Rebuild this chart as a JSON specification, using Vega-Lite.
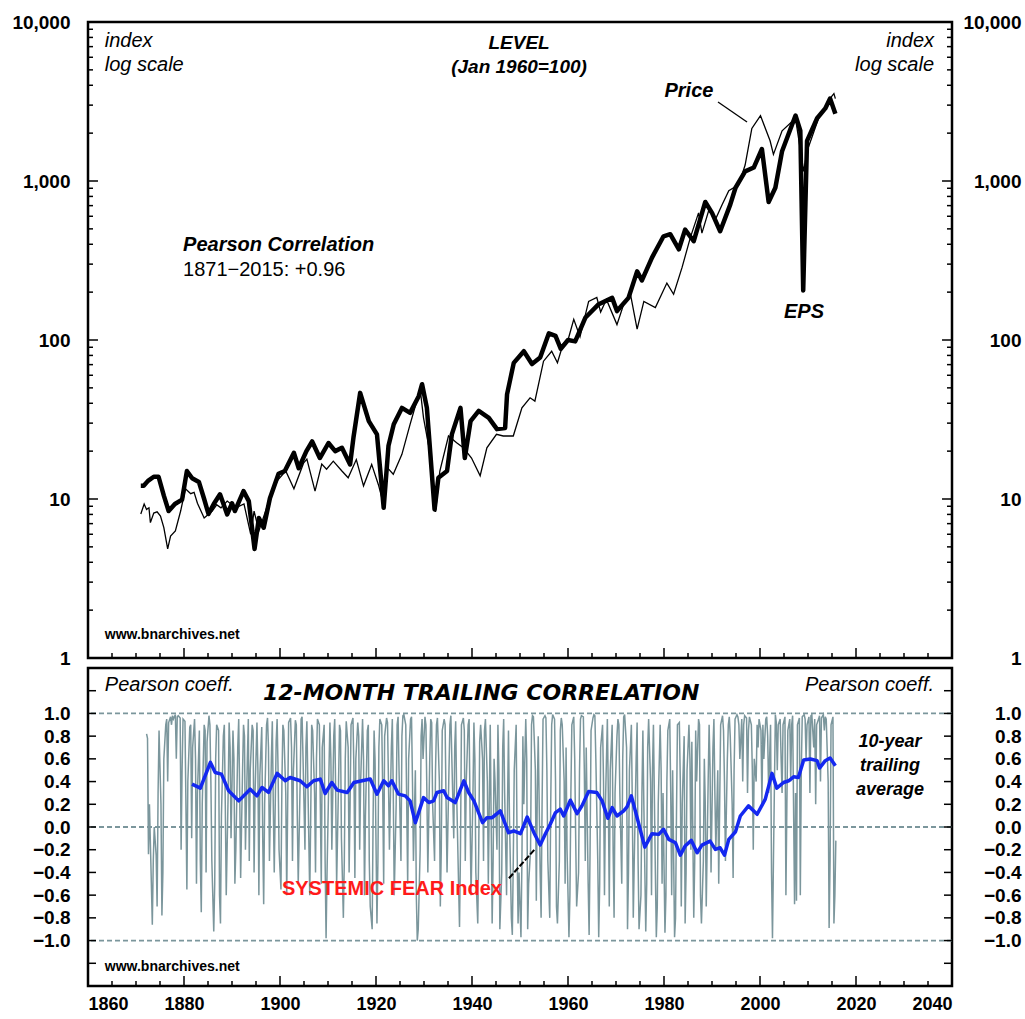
{
"$schema":"https://vega.github.io/schema/vega-lite/v6.json",
"background":"white",
"padding":{"left":10,"top":11,"right":0,"bottom":0},
"bounds":"flush",
"spacing":10,
"config":{"view":{"stroke":"black","strokeWidth":2.5},"axis":{"labelFont":"Liberation Sans","labelFontWeight":"bold","labelColor":"black","domain":false,"grid":false,"ticks":false}},
"datasets":{
"eps":[{"t":1871.0,"v":12.1},{"t":1871.6,"v":12.1},{"t":1872.5,"v":13.0},{"t":1873.7,"v":13.8},{"t":1874.7,"v":13.8},{"t":1875.8,"v":10.5},{"t":1876.8,"v":8.4},{"t":1878.1,"v":9.3},{"t":1879.6,"v":9.9},{"t":1880.6,"v":15.0},{"t":1881.7,"v":13.5},{"t":1883.1,"v":12.8},{"t":1884.2,"v":10.0},{"t":1885.1,"v":8.05},{"t":1886.2,"v":9.3},{"t":1887.5,"v":10.7},{"t":1889.0,"v":8.0},{"t":1890.0,"v":9.4},{"t":1890.6,"v":8.4},{"t":1892.4,"v":11.2},{"t":1893.5,"v":9.7},{"t":1894.7,"v":4.85},{"t":1895.6,"v":7.6},{"t":1896.6,"v":6.6},{"t":1897.9,"v":10.1},{"t":1899.7,"v":14.4},{"t":1901.0,"v":15.0},{"t":1902.9,"v":19.5},{"t":1903.9,"v":15.6},{"t":1905.5,"v":20.0},{"t":1906.7,"v":23.0},{"t":1908.3,"v":18.1},{"t":1910.1,"v":22.5},{"t":1911.5,"v":20.0},{"t":1912.9,"v":21.0},{"t":1914.6,"v":16.5},{"t":1915.3,"v":24.3},{"t":1916.7,"v":46.5},{"t":1918.5,"v":30.9},{"t":1920.2,"v":25.5},{"t":1921.6,"v":8.8},{"t":1922.6,"v":21.6},{"t":1923.7,"v":29.5},{"t":1925.4,"v":37.4},{"t":1927.1,"v":34.8},{"t":1928.9,"v":44.3},{"t":1929.6,"v":52.7},{"t":1930.6,"v":37.4},{"t":1932.2,"v":8.6},{"t":1933.0,"v":13.6},{"t":1934.8,"v":15.0},{"t":1935.8,"v":25.5},{"t":1937.6,"v":37.4},{"t":1938.5,"v":18.1},{"t":1939.7,"v":30.9},{"t":1941.4,"v":35.8},{"t":1943.5,"v":32.4},{"t":1945.2,"v":27.5},{"t":1946.9,"v":28.0},{"t":1947.3,"v":45.5},{"t":1948.7,"v":71.8},{"t":1950.8,"v":85},{"t":1952.5,"v":70.6},{"t":1954.2,"v":77.5},{"t":1956.0,"v":110},{"t":1957.4,"v":106},{"t":1958.5,"v":88},{"t":1960.0,"v":100},{"t":1961.5,"v":98},{"t":1963.6,"v":138},{"t":1966.4,"v":168},{"t":1969.2,"v":184},{"t":1970.2,"v":152},{"t":1972.6,"v":184},{"t":1974.4,"v":270},{"t":1975.4,"v":237},{"t":1977.5,"v":330},{"t":1979.9,"v":449},{"t":1981.3,"v":463},{"t":1983.1,"v":372},{"t":1984.4,"v":495},{"t":1986.2,"v":418},{"t":1988.6,"v":738},{"t":1990.0,"v":630},{"t":1991.7,"v":483},{"t":1993.8,"v":710},{"t":1994.9,"v":907},{"t":1996.9,"v":1150},{"t":1998.7,"v":1215},{"t":2000.4,"v":1590},{"t":2001.8,"v":738},{"t":2003.2,"v":907},{"t":2004.6,"v":1540},{"t":2007.4,"v":2580},{"t":2008.4,"v":2070},{"t":2009.0,"v":205},{"t":2009.8,"v":1790},{"t":2011.9,"v":2480},{"t":2013.6,"v":2860},{"t":2014.6,"v":3300},{"t":2015.7,"v":2650}],
"price":[{"t":1871.0,"v":8.05},{"t":1871.7,"v":9.3},{"t":1872.2,"v":8.6},{"t":1872.7,"v":8.8},{"t":1873.0,"v":7.1},{"t":1873.7,"v":8.15},{"t":1874.4,"v":8.3},{"t":1875.1,"v":7.8},{"t":1875.8,"v":6.6},{"t":1876.6,"v":4.85},{"t":1877.2,"v":5.85},{"t":1878.2,"v":6.3},{"t":1879.3,"v":8.4},{"t":1880.3,"v":11.6},{"t":1881.4,"v":10.8},{"t":1882.1,"v":11.0},{"t":1882.8,"v":9.4},{"t":1884.2,"v":7.6},{"t":1885.9,"v":8.4},{"t":1886.8,"v":9.2},{"t":1887.7,"v":8.8},{"t":1889.0,"v":9.7},{"t":1890.8,"v":8.8},{"t":1892.5,"v":9.3},{"t":1893.9,"v":6.0},{"t":1894.6,"v":8.4},{"t":1895.6,"v":6.3},{"t":1897.7,"v":9.7},{"t":1899.4,"v":13.0},{"t":1901.2,"v":15.0},{"t":1902.9,"v":11.6},{"t":1904.9,"v":16.8},{"t":1905.6,"v":17.8},{"t":1907.3,"v":11.2},{"t":1908.7,"v":16.6},{"t":1909.7,"v":15.4},{"t":1911.1,"v":17.3},{"t":1912.9,"v":15.0},{"t":1914.2,"v":13.6},{"t":1915.9,"v":17.7},{"t":1917.4,"v":12.1},{"t":1919.1,"v":16.5},{"t":1920.5,"v":12.3},{"t":1921.4,"v":9.7},{"t":1922.4,"v":15.7},{"t":1923.6,"v":14.3},{"t":1925.4,"v":19.1},{"t":1927.1,"v":29.5},{"t":1929.2,"v":49},{"t":1929.9,"v":32.4},{"t":1931.3,"v":19.1},{"t":1932.4,"v":8.3},{"t":1933.3,"v":15},{"t":1935.1,"v":24.9},{"t":1936.8,"v":22.6},{"t":1938.2,"v":21},{"t":1939.9,"v":18.1},{"t":1941.7,"v":14},{"t":1943.1,"v":21},{"t":1945.1,"v":25.5},{"t":1946.5,"v":24.9},{"t":1948.6,"v":24.9},{"t":1950.4,"v":37.4},{"t":1952.1,"v":43.3},{"t":1953.1,"v":41.3},{"t":1954.9,"v":73.6},{"t":1956.6,"v":85},{"t":1957.8,"v":72},{"t":1959.0,"v":95},{"t":1960.0,"v":100},{"t":1961.2,"v":135},{"t":1962.5,"v":105},{"t":1964.3,"v":175},{"t":1966.0,"v":185},{"t":1966.8,"v":150},{"t":1968.0,"v":180},{"t":1970.2,"v":125},{"t":1971.6,"v":168},{"t":1973.0,"v":195},{"t":1974.4,"v":117},{"t":1975.8,"v":175},{"t":1978.2,"v":160},{"t":1980.6,"v":228},{"t":1982.0,"v":194},{"t":1983.75,"v":285},{"t":1985.5,"v":442},{"t":1987.2,"v":630},{"t":1987.9,"v":470},{"t":1989.3,"v":650},{"t":1990.8,"v":580},{"t":1992.1,"v":710},{"t":1993.5,"v":870},{"t":1995.6,"v":950},{"t":1996.9,"v":1260},{"t":1998.3,"v":2140},{"t":2000.1,"v":2580},{"t":2002.1,"v":1790},{"t":2002.8,"v":1470},{"t":2004.6,"v":2070},{"t":2007.4,"v":2480},{"t":2009.1,"v":1150},{"t":2009.8,"v":1540},{"t":2012.2,"v":2480},{"t":2013.6,"v":2900},{"t":2014.9,"v":3400},{"t":2015.4,"v":3550},{"t":2015.7,"v":3300}],
"avg":[{"t":1881.67,"c":0.378},{"t":1883.4,"c":0.342},{"t":1885.5,"c":0.569},{"t":1886.5,"c":0.48},{"t":1887.8,"c":0.466},{"t":1889.3,"c":0.319},{"t":1891.4,"c":0.23},{"t":1893.8,"c":0.333},{"t":1895.2,"c":0.274},{"t":1896.25,"c":0.348},{"t":1897.6,"c":0.304},{"t":1899.4,"c":0.472},{"t":1901.1,"c":0.407},{"t":1902.1,"c":0.436},{"t":1904.2,"c":0.407},{"t":1905.6,"c":0.354},{"t":1907.0,"c":0.407},{"t":1908.4,"c":0.422},{"t":1909.4,"c":0.295},{"t":1910.8,"c":0.392},{"t":1911.9,"c":0.325},{"t":1914.0,"c":0.304},{"t":1915.4,"c":0.392},{"t":1917.1,"c":0.407},{"t":1918.8,"c":0.422},{"t":1920.2,"c":0.289},{"t":1921.6,"c":0.407},{"t":1922.6,"c":0.363},{"t":1923.3,"c":0.407},{"t":1924.7,"c":0.289},{"t":1926.1,"c":0.274},{"t":1927.1,"c":0.23},{"t":1928.2,"c":0.038},{"t":1929.9,"c":0.259},{"t":1931.0,"c":0.215},{"t":1932.0,"c":0.23},{"t":1932.7,"c":0.304},{"t":1934.1,"c":0.319},{"t":1934.8,"c":0.259},{"t":1936.5,"c":0.215},{"t":1938.3,"c":0.407},{"t":1939.3,"c":0.304},{"t":1940.4,"c":0.23},{"t":1942.2,"c":0.038},{"t":1943.1,"c":0.082},{"t":1944.2,"c":0.082},{"t":1945.9,"c":0.142},{"t":1947.6,"c":-0.05},{"t":1948.7,"c":-0.035},{"t":1950.1,"c":-0.059},{"t":1951.5,"c":0.088},{"t":1952.9,"c":-0.05},{"t":1954.2,"c":-0.159},{"t":1955.3,"c":-0.059},{"t":1956.3,"c":0.024},{"t":1957.4,"c":0.127},{"t":1958.4,"c":0.157},{"t":1959.1,"c":0.097},{"t":1960.5,"c":0.236},{"t":1961.9,"c":0.118},{"t":1962.9,"c":0.186},{"t":1964.3,"c":0.312},{"t":1966.0,"c":0.304},{"t":1967.1,"c":0.23},{"t":1968.3,"c":0.077},{"t":1969.2,"c":0.171},{"t":1970.2,"c":0.097},{"t":1971.6,"c":0.142},{"t":1972.3,"c":0.177},{"t":1973.2,"c":0.274},{"t":1974.4,"c":0.082},{"t":1976.0,"c":-0.177},{"t":1977.5,"c":-0.059},{"t":1978.9,"c":-0.065},{"t":1979.9,"c":-0.02},{"t":1981.0,"c":-0.109},{"t":1982.4,"c":-0.139},{"t":1983.4,"c":-0.248},{"t":1984.4,"c":-0.168},{"t":1985.7,"c":-0.118},{"t":1986.9,"c":-0.227},{"t":1987.9,"c":-0.159},{"t":1989.6,"c":-0.124},{"t":1990.7,"c":-0.197},{"t":1991.7,"c":-0.183},{"t":1992.6,"c":-0.248},{"t":1993.5,"c":-0.109},{"t":1994.9,"c":-0.042},{"t":1995.9,"c":0.097},{"t":1997.6,"c":0.186},{"t":1999.4,"c":0.112},{"t":2001.1,"c":0.245},{"t":2002.5,"c":0.472},{"t":2003.5,"c":0.342},{"t":2004.9,"c":0.392},{"t":2006.0,"c":0.407},{"t":2007.0,"c":0.442},{"t":2008.0,"c":0.436},{"t":2009.1,"c":0.59},{"t":2010.5,"c":0.599},{"t":2011.9,"c":0.584},{"t":2012.4,"c":0.519},{"t":2013.6,"c":0.584},{"t":2014.6,"c":0.608},{"t":2015.7,"c":0.54}],
"refs":[{"r":1},{"r":0},{"r":-1}],
"logmaj":[{"v":1},{"v":10},{"v":100},{"v":1000},{"v":10000}],
"logmin":[{"v":2},{"v":3},{"v":4},{"v":5},{"v":6},{"v":7},{"v":8},{"v":9},{"v":20},{"v":30},{"v":40},{"v":50},{"v":60},{"v":70},{"v":80},{"v":90},{"v":200},{"v":300},{"v":400},{"v":500},{"v":600},{"v":700},{"v":800},{"v":900},{"v":2000},{"v":3000},{"v":4000},{"v":5000},{"v":6000},{"v":7000},{"v":8000},{"v":9000}],
"yrmaj":[{"t":1860},{"t":1880},{"t":1900},{"t":1920},{"t":1940},{"t":1960},{"t":1980},{"t":2000},{"t":2020},{"t":2040}],
"yrmin":[{"t":1865},{"t":1870},{"t":1875},{"t":1885},{"t":1890},{"t":1895},{"t":1905},{"t":1910},{"t":1915},{"t":1925},{"t":1930},{"t":1935},{"t":1945},{"t":1950},{"t":1955},{"t":1965},{"t":1970},{"t":1975},{"t":1985},{"t":1990},{"t":1995},{"t":2005},{"t":2010},{"t":2015},{"t":2025},{"t":2030},{"t":2035}],
"cticks":[{"c":-1.2},{"c":-1.0},{"c":-0.8},{"c":-0.6},{"c":-0.4},{"c":-0.2},{"c":0},{"c":0.2},{"c":0.4},{"c":0.6},{"c":0.8},{"c":1.0},{"c":1.2}],
"corr":[
{"t":1872.2,"c":0.82},{"t":1872.4,"c":0.78},{"t":1872.6,"c":-0.24},{"t":1872.8,"c":0.2},
{"t":1873.2,"c":-0.5},{"t":1873.4,"c":-0.86},{"t":1873.6,"c":-0.3},{"t":1873.8,"c":0.0},
{"t":1874.2,"c":-0.25},{"t":1874.4,"c":-0.7},{"t":1874.6,"c":0.3},{"t":1874.8,"c":0.85},
{"t":1875.2,"c":0.2},{"t":1875.4,"c":-0.78},{"t":1875.6,"c":-0.4},{"t":1875.8,"c":0.6},
{"t":1876.2,"c":0.9},{"t":1876.4,"c":0.95},{"t":1876.6,"c":0.4},{"t":1876.8,"c":0.92},
{"t":1877.2,"c":0.97},{"t":1877.4,"c":0.9},{"t":1877.6,"c":0.98},{"t":1877.8,"c":0.95},
{"t":1878.2,"c":0.99},{"t":1878.4,"c":0.6},{"t":1878.6,"c":0.97},{"t":1878.8,"c":0.98},
{"t":1879.2,"c":0.96},{"t":1879.4,"c":-0.2},{"t":1879.6,"c":0.5},{"t":1879.8,"c":0.95},
{"t":1880.2,"c":0.93},{"t":1880.4,"c":0.2},{"t":1880.6,"c":-0.55},{"t":1880.8,"c":0.4},
{"t":1881.2,"c":0.88},{"t":1881.4,"c":0.9},{"t":1881.6,"c":-0.1},{"t":1881.8,"c":0.7},
{"t":1882.2,"c":0.95},{"t":1882.4,"c":0.6},{"t":1882.6,"c":-0.5},{"t":1882.8,"c":0.3},
{"t":1883.2,"c":0.85},{"t":1883.4,"c":-0.3},{"t":1883.6,"c":-0.75},{"t":1883.8,"c":0.2},
{"t":1884.2,"c":0.9},{"t":1884.4,"c":0.85},{"t":1884.6,"c":-0.4},{"t":1884.8,"c":0.75},
{"t":1885.2,"c":0.98},{"t":1885.4,"c":0.9},{"t":1885.6,"c":0.4},{"t":1885.8,"c":-0.3},
{"t":1886.2,"c":-0.92},{"t":1886.4,"c":-0.5},{"t":1886.6,"c":0.6},{"t":1886.8,"c":0.9},
{"t":1887.2,"c":0.85},{"t":1887.4,"c":-0.6},{"t":1887.6,"c":-0.85},{"t":1887.8,"c":0.1},
{"t":1888.2,"c":0.8},{"t":1888.4,"c":0.9},{"t":1888.6,"c":0.2},{"t":1888.8,"c":-0.6},
{"t":1889.2,"c":0.3},{"t":1889.4,"c":0.92},{"t":1889.6,"c":0.7},{"t":1889.8,"c":-0.1},
{"t":1890.2,"c":0.85},{"t":1890.4,"c":0.6},{"t":1890.6,"c":-0.5},{"t":1890.8,"c":-0.2},
{"t":1891.2,"c":0.7},{"t":1891.4,"c":0.95},{"t":1891.6,"c":0.3},{"t":1891.8,"c":-0.45},
{"t":1892.2,"c":0.5},{"t":1892.4,"c":0.9},{"t":1892.6,"c":0.8},{"t":1892.8,"c":-0.2},
{"t":1893.2,"c":0.6},{"t":1893.4,"c":0.95},{"t":1893.6,"c":-0.3},{"t":1893.8,"c":0.5},
{"t":1894.2,"c":0.9},{"t":1894.4,"c":0.85},{"t":1894.6,"c":-0.4},{"t":1894.8,"c":0.3},
{"t":1895.2,"c":0.92},{"t":1895.4,"c":0.5},{"t":1895.6,"c":-0.6},{"t":1895.8,"c":0.45},
{"t":1896.2,"c":0.88},{"t":1896.4,"c":-0.1},{"t":1896.6,"c":-0.68},{"t":1896.8,"c":0.2},
{"t":1897.2,"c":0.9},{"t":1897.4,"c":0.96},{"t":1897.6,"c":0.7},{"t":1897.8,"c":-0.3},
{"t":1898.2,"c":0.6},{"t":1898.4,"c":0.93},{"t":1898.6,"c":0.2},{"t":1898.8,"c":-0.4},
{"t":1899.2,"c":0.75},{"t":1899.4,"c":0.95},{"t":1899.6,"c":0.5},{"t":1899.8,"c":-0.2},
{"t":1900.2,"c":-0.55},{"t":1900.4,"c":0.4},{"t":1900.6,"c":0.9},{"t":1900.8,"c":0.85},
{"t":1901.2,"c":0.3},{"t":1901.4,"c":-0.6},{"t":1901.6,"c":0.2},{"t":1901.8,"c":0.92},
{"t":1902.2,"c":0.96},{"t":1902.4,"c":0.7},{"t":1902.6,"c":-0.3},{"t":1902.8,"c":0.5},
{"t":1903.2,"c":0.94},{"t":1903.4,"c":0.9},{"t":1903.6,"c":0.1},{"t":1903.8,"c":-0.5},
{"t":1904.2,"c":0.4},{"t":1904.4,"c":0.95},{"t":1904.6,"c":0.97},{"t":1904.8,"c":0.6},
{"t":1905.2,"c":-0.2},{"t":1905.4,"c":0.7},{"t":1905.6,"c":0.93},{"t":1905.8,"c":0.4},
{"t":1906.2,"c":-0.6},{"t":1906.4,"c":0.1},{"t":1906.6,"c":0.9},{"t":1906.8,"c":0.85},
{"t":1907.2,"c":0.3},{"t":1907.4,"c":-0.4},{"t":1907.6,"c":0.6},{"t":1907.8,"c":0.95},
{"t":1908.2,"c":0.9},{"t":1908.4,"c":0.2},{"t":1908.6,"c":-0.5},{"t":1908.8,"c":0.7},
{"t":1909.2,"c":0.9},{"t":1909.4,"c":-0.3},{"t":1909.6,"c":-0.98},{"t":1909.8,"c":-0.4},
{"t":1910.2,"c":0.5},{"t":1910.4,"c":0.92},{"t":1910.6,"c":0.6},{"t":1910.8,"c":-0.2},
{"t":1911.2,"c":0.8},{"t":1911.4,"c":0.95},{"t":1911.6,"c":0.3},{"t":1911.8,"c":-0.5},
{"t":1912.2,"c":0.4},{"t":1912.4,"c":0.9},{"t":1912.6,"c":0.85},{"t":1912.8,"c":-0.1},
{"t":1913.2,"c":-0.8},{"t":1913.4,"c":-0.3},{"t":1913.6,"c":0.6},{"t":1913.8,"c":0.93},
{"t":1914.2,"c":0.7},{"t":1914.4,"c":-0.4},{"t":1914.6,"c":0.2},{"t":1914.8,"c":0.9},
{"t":1915.2,"c":0.96},{"t":1915.4,"c":0.5},{"t":1915.6,"c":-0.45},{"t":1915.8,"c":0.6},
{"t":1916.2,"c":0.92},{"t":1916.4,"c":0.8},{"t":1916.6,"c":-0.2},{"t":1916.8,"c":0.4},
{"t":1917.2,"c":0.95},{"t":1917.4,"c":0.6},{"t":1917.6,"c":-0.6},{"t":1917.8,"c":0.1},
{"t":1918.2,"c":0.85},{"t":1918.4,"c":0.9},{"t":1918.6,"c":-0.3},{"t":1918.8,"c":-0.7},
{"t":1919.2,"c":-0.9},{"t":1919.4,"c":0.1},{"t":1919.6,"c":0.85},{"t":1919.8,"c":0.6},
{"t":1920.2,"c":-0.85},{"t":1920.4,"c":-0.3},{"t":1920.6,"c":0.7},{"t":1920.8,"c":0.95},
{"t":1921.2,"c":0.9},{"t":1921.4,"c":0.3},{"t":1921.6,"c":-0.5},{"t":1921.8,"c":0.8},
{"t":1922.2,"c":0.96},{"t":1922.4,"c":0.92},{"t":1922.6,"c":0.4},{"t":1922.8,"c":-0.2},
{"t":1923.2,"c":0.7},{"t":1923.4,"c":0.95},{"t":1923.6,"c":0.3},{"t":1923.8,"c":-0.6},
{"t":1924.2,"c":0.2},{"t":1924.4,"c":0.9},{"t":1924.6,"c":0.97},{"t":1924.8,"c":0.5},
{"t":1925.2,"c":-0.3},{"t":1925.4,"c":0.8},{"t":1925.6,"c":0.98},{"t":1925.8,"c":0.99},
{"t":1926.2,"c":0.9},{"t":1926.4,"c":0.2},{"t":1926.6,"c":-0.5},{"t":1926.8,"c":0.6},
{"t":1927.2,"c":0.95},{"t":1927.4,"c":0.97},{"t":1927.6,"c":0.4},{"t":1927.8,"c":-0.3},
{"t":1928.2,"c":0.5},{"t":1928.4,"c":-0.6},{"t":1928.6,"c":-1.0},{"t":1928.8,"c":-0.9},
{"t":1929.2,"c":-0.2},{"t":1929.4,"c":0.8},{"t":1929.6,"c":0.95},{"t":1929.8,"c":0.6},
{"t":1930.2,"c":0.97},{"t":1930.4,"c":0.9},{"t":1930.6,"c":0.3},{"t":1930.8,"c":-0.4},
{"t":1931.2,"c":0.6},{"t":1931.4,"c":0.95},{"t":1931.6,"c":0.92},{"t":1931.8,"c":0.2},
{"t":1932.2,"c":-0.3},{"t":1932.4,"c":0.5},{"t":1932.6,"c":0.9},{"t":1932.8,"c":0.96},
{"t":1933.2,"c":0.4},{"t":1933.4,"c":-0.7},{"t":1933.6,"c":-0.2},{"t":1933.8,"c":0.85},
{"t":1934.2,"c":0.95},{"t":1934.4,"c":0.9},{"t":1934.6,"c":0.2},{"t":1934.8,"c":-0.4},
{"t":1935.2,"c":0.5},{"t":1935.4,"c":0.9},{"t":1935.6,"c":0.98},{"t":1935.8,"c":0.6},
{"t":1936.2,"c":-0.1},{"t":1936.4,"c":0.7},{"t":1936.6,"c":0.93},{"t":1936.8,"c":0.3},
{"t":1937.2,"c":-0.5},{"t":1937.4,"c":-0.88},{"t":1937.6,"c":-0.2},{"t":1937.8,"c":0.9},
{"t":1938.2,"c":0.96},{"t":1938.4,"c":0.85},{"t":1938.6,"c":-0.3},{"t":1938.8,"c":0.4},
{"t":1939.2,"c":0.9},{"t":1939.4,"c":0.95},{"t":1939.6,"c":0.1},{"t":1939.8,"c":-0.6},
{"t":1940.2,"c":0.3},{"t":1940.4,"c":0.92},{"t":1940.6,"c":0.6},{"t":1940.8,"c":-0.4},
{"t":1941.2,"c":-0.85},{"t":1941.4,"c":-0.2},{"t":1941.6,"c":0.75},{"t":1941.8,"c":0.9},
{"t":1942.2,"c":0.6},{"t":1942.4,"c":-0.3},{"t":1942.6,"c":0.85},{"t":1942.8,"c":0.95},
{"t":1943.2,"c":0.4},{"t":1943.4,"c":-0.5},{"t":1943.6,"c":0.2},{"t":1943.8,"c":0.9},
{"t":1944.2,"c":-0.85},{"t":1944.4,"c":-0.3},{"t":1944.6,"c":0.6},{"t":1944.8,"c":0.4},
{"t":1945.2,"c":-0.2},{"t":1945.4,"c":0.9},{"t":1945.6,"c":0.5},{"t":1945.8,"c":-0.9},
{"t":1946.2,"c":-0.4},{"t":1946.4,"c":0.7},{"t":1946.6,"c":0.95},{"t":1946.8,"c":0.3},
{"t":1947.2,"c":-0.6},{"t":1947.4,"c":0.2},{"t":1947.6,"c":0.85},{"t":1947.8,"c":0.1},
{"t":1948.2,"c":-0.8},{"t":1948.4,"c":-0.95},{"t":1948.6,"c":-0.3},{"t":1948.8,"c":0.5},
{"t":1949.2,"c":0.9},{"t":1949.4,"c":-0.2},{"t":1949.6,"c":-0.85},{"t":1949.8,"c":-0.4},
{"t":1950.2,"c":-0.97},{"t":1950.4,"c":-0.3},{"t":1950.6,"c":0.8},{"t":1950.8,"c":0.2},
{"t":1951.2,"c":0.95},{"t":1951.4,"c":0.6},{"t":1951.6,"c":-0.9},{"t":1951.8,"c":-0.5},
{"t":1952.2,"c":-0.2},{"t":1952.4,"c":0.9},{"t":1952.6,"c":0.98},{"t":1952.8,"c":0.97},
{"t":1953.2,"c":0.5},{"t":1953.4,"c":-0.65},{"t":1953.6,"c":0.3},{"t":1953.8,"c":0.8},
{"t":1954.2,"c":-0.4},{"t":1954.4,"c":-0.8},{"t":1954.6,"c":0.2},{"t":1954.8,"c":0.95},
{"t":1955.2,"c":0.98},{"t":1955.4,"c":0.96},{"t":1955.6,"c":0.5},{"t":1955.8,"c":-0.3},
{"t":1956.2,"c":-0.8},{"t":1956.4,"c":0.2},{"t":1956.6,"c":0.9},{"t":1956.8,"c":0.99},
{"t":1957.2,"c":0.95},{"t":1957.4,"c":0.4},{"t":1957.6,"c":-0.7},{"t":1957.8,"c":-0.85},
{"t":1958.2,"c":-0.3},{"t":1958.4,"c":0.85},{"t":1958.6,"c":0.96},{"t":1958.8,"c":0.9},
{"t":1959.2,"c":0.4},{"t":1959.4,"c":-0.5},{"t":1959.6,"c":0.7},{"t":1959.8,"c":-0.2},
{"t":1960.2,"c":-0.97},{"t":1960.4,"c":-0.6},{"t":1960.6,"c":0.3},{"t":1960.8,"c":0.9},
{"t":1961.2,"c":0.97},{"t":1961.4,"c":0.6},{"t":1961.6,"c":-0.1},{"t":1961.8,"c":-0.7},
{"t":1962.2,"c":-0.4},{"t":1962.4,"c":0.5},{"t":1962.6,"c":0.95},{"t":1962.8,"c":0.98},
{"t":1963.2,"c":0.97},{"t":1963.4,"c":0.5},{"t":1963.6,"c":-0.3},{"t":1963.8,"c":0.7},
{"t":1964.2,"c":-0.5},{"t":1964.4,"c":-0.95},{"t":1964.6,"c":-0.2},{"t":1964.8,"c":0.85},
{"t":1965.2,"c":0.96},{"t":1965.4,"c":0.99},{"t":1965.6,"c":0.98},{"t":1965.8,"c":0.6},
{"t":1966.2,"c":-0.3},{"t":1966.4,"c":-0.97},{"t":1966.6,"c":-0.5},{"t":1966.8,"c":0.7},
{"t":1967.2,"c":0.9},{"t":1967.4,"c":0.4},{"t":1967.6,"c":-0.6},{"t":1967.8,"c":0.2},
{"t":1968.2,"c":0.95},{"t":1968.4,"c":0.3},{"t":1968.6,"c":-0.7},{"t":1968.8,"c":0.5},
{"t":1969.2,"c":0.9},{"t":1969.4,"c":-0.2},{"t":1969.6,"c":-0.8},{"t":1969.8,"c":0.3},
{"t":1970.2,"c":0.8},{"t":1970.4,"c":0.95},{"t":1970.6,"c":0.9},{"t":1970.8,"c":0.3},
{"t":1971.2,"c":-0.5},{"t":1971.4,"c":0.6},{"t":1971.6,"c":0.97},{"t":1971.8,"c":0.99},
{"t":1972.2,"c":0.7},{"t":1972.4,"c":-0.9},{"t":1972.6,"c":-0.4},{"t":1972.8,"c":0.5},
{"t":1973.2,"c":0.9},{"t":1973.4,"c":0.2},{"t":1973.6,"c":-0.8},{"t":1973.8,"c":-0.3},
{"t":1974.2,"c":0.6},{"t":1974.4,"c":0.92},{"t":1974.6,"c":-0.3},{"t":1974.8,"c":-0.9},
{"t":1975.2,"c":-0.6},{"t":1975.4,"c":0.3},{"t":1975.6,"c":0.85},{"t":1975.8,"c":0.2},
{"t":1976.2,"c":-0.92},{"t":1976.4,"c":-0.5},{"t":1976.6,"c":0.7},{"t":1976.8,"c":0.95},
{"t":1977.2,"c":0.4},{"t":1977.4,"c":-0.6},{"t":1977.6,"c":0.5},{"t":1977.8,"c":0.9},
{"t":1978.2,"c":-0.4},{"t":1978.4,"c":-0.97},{"t":1978.6,"c":-0.7},{"t":1978.8,"c":0.2},
{"t":1979.2,"c":0.9},{"t":1979.4,"c":0.5},{"t":1979.6,"c":-0.5},{"t":1979.8,"c":0.3},
{"t":1980.2,"c":-0.93},{"t":1980.4,"c":-0.6},{"t":1980.6,"c":0.4},{"t":1980.8,"c":0.85},
{"t":1981.2,"c":0.95},{"t":1981.4,"c":0.3},{"t":1981.6,"c":-0.6},{"t":1981.8,"c":0.5},
{"t":1982.2,"c":-0.97},{"t":1982.4,"c":-0.8},{"t":1982.6,"c":0.1},{"t":1982.8,"c":0.9},
{"t":1983.2,"c":0.92},{"t":1983.4,"c":0.4},{"t":1983.6,"c":-0.7},{"t":1983.8,"c":0.2},
{"t":1984.2,"c":0.8},{"t":1984.4,"c":-0.85},{"t":1984.6,"c":-0.4},{"t":1984.8,"c":0.5},
{"t":1985.2,"c":0.9},{"t":1985.4,"c":0.6},{"t":1985.6,"c":-0.2},{"t":1985.8,"c":0.75},
{"t":1986.2,"c":-0.8},{"t":1986.4,"c":-0.3},{"t":1986.6,"c":0.85},{"t":1986.8,"c":0.4},
{"t":1987.2,"c":0.95},{"t":1987.4,"c":0.9},{"t":1987.6,"c":-0.6},{"t":1987.8,"c":-0.85},
{"t":1988.2,"c":-0.3},{"t":1988.4,"c":0.6},{"t":1988.6,"c":0.2},{"t":1988.8,"c":-0.7},
{"t":1989.2,"c":0.4},{"t":1989.4,"c":0.9},{"t":1989.6,"c":0.5},{"t":1989.8,"c":-0.4},
{"t":1990.2,"c":0.7},{"t":1990.4,"c":0.95},{"t":1990.6,"c":0.3},{"t":1990.8,"c":-0.2},
{"t":1991.2,"c":0.5},{"t":1991.4,"c":-0.5},{"t":1991.6,"c":0.2},{"t":1991.8,"c":0.9},
{"t":1992.2,"c":0.98},{"t":1992.4,"c":0.85},{"t":1992.6,"c":0.4},{"t":1992.8,"c":-0.3},
{"t":1993.2,"c":0.6},{"t":1993.4,"c":0.9},{"t":1993.6,"c":0.97},{"t":1993.8,"c":0.8},
{"t":1994.2,"c":0.2},{"t":1994.4,"c":-0.45},{"t":1994.6,"c":0.5},{"t":1994.8,"c":0.95},
{"t":1995.2,"c":0.99},{"t":1995.4,"c":0.97},{"t":1995.6,"c":0.9},{"t":1995.8,"c":0.6},
{"t":1996.2,"c":0.95},{"t":1996.4,"c":0.4},{"t":1996.6,"c":0.9},{"t":1996.8,"c":0.98},
{"t":1997.2,"c":0.96},{"t":1997.4,"c":0.3},{"t":1997.6,"c":0.85},{"t":1997.8,"c":0.97},
{"t":1998.2,"c":0.9},{"t":1998.4,"c":0.5},{"t":1998.6,"c":-0.2},{"t":1998.8,"c":0.6},
{"t":1999.2,"c":0.4},{"t":1999.4,"c":0.9},{"t":1999.6,"c":0.7},{"t":1999.8,"c":0.95},
{"t":2000.2,"c":0.85},{"t":2000.4,"c":0.2},{"t":2000.6,"c":0.9},{"t":2000.8,"c":0.6},
{"t":2001.2,"c":0.95},{"t":2001.4,"c":0.97},{"t":2001.6,"c":0.8},{"t":2001.8,"c":0.3},
{"t":2002.2,"c":0.9},{"t":2002.4,"c":-0.4},{"t":2002.6,"c":-0.98},{"t":2002.8,"c":-0.3},
{"t":2003.2,"c":0.99},{"t":2003.4,"c":0.92},{"t":2003.6,"c":0.5},{"t":2003.8,"c":0.9},
{"t":2004.2,"c":0.95},{"t":2004.4,"c":0.6},{"t":2004.6,"c":0.3},{"t":2004.8,"c":0.9},
{"t":2005.2,"c":0.97},{"t":2005.4,"c":-0.6},{"t":2005.6,"c":0.2},{"t":2005.8,"c":0.85},
{"t":2006.2,"c":0.95},{"t":2006.4,"c":0.4},{"t":2006.6,"c":0.9},{"t":2006.8,"c":0.98},
{"t":2007.2,"c":-0.68},{"t":2007.4,"c":0.3},{"t":2007.6,"c":-0.65},{"t":2007.8,"c":0.9},
{"t":2008.2,"c":0.96},{"t":2008.4,"c":-0.6},{"t":2008.6,"c":0.5},{"t":2008.8,"c":0.97},
{"t":2009.2,"c":0.99},{"t":2009.4,"c":0.95},{"t":2009.6,"c":0.6},{"t":2009.8,"c":0.9},
{"t":2010.2,"c":0.97},{"t":2010.4,"c":0.3},{"t":2010.6,"c":0.98},{"t":2010.8,"c":0.99},
{"t":2011.2,"c":0.7},{"t":2011.4,"c":0.95},{"t":2011.6,"c":0.2},{"t":2011.8,"c":0.9},
{"t":2012.2,"c":0.95},{"t":2012.4,"c":0.98},{"t":2012.6,"c":0.4},{"t":2012.8,"c":0.96},
{"t":2013.2,"c":0.99},{"t":2013.4,"c":0.85},{"t":2013.6,"c":0.97},{"t":2013.8,"c":0.95},
{"t":2014.2,"c":0.4},{"t":2014.4,"c":-0.89},{"t":2014.6,"c":-0.3},{"t":2014.8,"c":0.9},
{"t":2015.2,"c":0.97},{"t":2015.4,"c":-0.85},{"t":2015.6,"c":-0.6},{"t":2015.8,"c":-0.12}
]},
"vconcat":[
{"width":864,"height":636,
"resolve":{"axis":{"y":"independent"}},
"layer":[
{"data":{"name":"eps"},"mark":{"type":"line","color":"black","strokeWidth":4.5,"strokeJoin":"round"},
"encoding":{
"x":{"field":"t","type":"quantitative","title":null,"scale":{"domain":[1860,2040],"nice":false,"zero":false},"axis":null},
"y":{"field":"v","type":"quantitative","title":null,"scale":{"type":"log","domain":[1,10000],"nice":false},
"axis":{"orient":"left","title":null,"values":[1,10,100,1000,10000],"format":",","labelFontSize":19,"labelPadding":18}}}},
{"data":{"name":"price"},"mark":{"type":"line","color":"black","strokeWidth":1.3},
"encoding":{
"x":{"field":"t","type":"quantitative","title":null,"axis":null},
"y":{"field":"v","type":"quantitative","title":null,
"axis":{"orient":"right","title":null,"values":[1,10,100,1000,10000],"format":",","labelFontSize":19,"labelAlign":"right","labelPadding":69}}}},
{"data":{"name":"logmaj"},"mark":{"type":"rule","color":"black","strokeWidth":1.5},"encoding":{"y":{"field":"v","type":"quantitative","axis":null},"x":{"datum":1860,"type":"quantitative","axis":null},"x2":{"datum":1862.08}}},
{"data":{"name":"logmaj"},"mark":{"type":"rule","color":"black","strokeWidth":1.5},"encoding":{"y":{"field":"v","type":"quantitative","axis":null},"x":{"datum":2040,"type":"quantitative","axis":null},"x2":{"datum":2037.92}}},
{"data":{"name":"logmin"},"mark":{"type":"rule","color":"black","strokeWidth":1.5},"encoding":{"y":{"field":"v","type":"quantitative","axis":null},"x":{"datum":1860,"type":"quantitative","axis":null},"x2":{"datum":1861.04}}},
{"data":{"name":"logmin"},"mark":{"type":"rule","color":"black","strokeWidth":1.5},"encoding":{"y":{"field":"v","type":"quantitative","axis":null},"x":{"datum":2040,"type":"quantitative","axis":null},"x2":{"datum":2038.96}}},
{"data":{"name":"yrmaj"},"mark":{"type":"rule","color":"black","strokeWidth":1.5},"encoding":{"x":{"field":"t","type":"quantitative","axis":null},"y":{"datum":1,"type":"quantitative","axis":null},"y2":{"datum":1.1557}}},
{"data":{"name":"yrmin"},"mark":{"type":"rule","color":"black","strokeWidth":1.5},"encoding":{"x":{"field":"t","type":"quantitative","axis":null},"y":{"datum":1,"type":"quantitative","axis":null},"y2":{"datum":1.075}}},
{"data":{"values":[{}]},"mark":{"type":"rule","color":"black","strokeWidth":1.3},"encoding":{"x":{"datum":1991.25,"type":"quantitative","axis":null},"x2":{"datum":1997.3},"y":{"datum":3140,"type":"quantitative","axis":null},"y2":{"datum":2350}}},
{"data":{"values":[{}]},"mark":{"type":"text","align":"left","baseline":"middle","font":"Liberation Sans","fontSize":20,"fontStyle":"italic","text":"index"},"encoding":{"x":{"datum":1863.5,"type":"quantitative","axis":null},"y":{"datum":7596,"type":"quantitative","axis":null}}},
{"data":{"values":[{}]},"mark":{"type":"text","align":"left","baseline":"middle","font":"Liberation Sans","fontSize":20,"fontStyle":"italic","text":"log scale"},"encoding":{"x":{"datum":1863.5,"type":"quantitative","axis":null},"y":{"datum":5364,"type":"quantitative","axis":null}}},
{"data":{"values":[{}]},"mark":{"type":"text","align":"right","baseline":"middle","font":"Liberation Sans","fontSize":20,"fontStyle":"italic","text":"index"},"encoding":{"x":{"datum":2036.25,"type":"quantitative","axis":null},"y":{"datum":7596,"type":"quantitative","axis":null}}},
{"data":{"values":[{}]},"mark":{"type":"text","align":"right","baseline":"middle","font":"Liberation Sans","fontSize":20,"fontStyle":"italic","text":"log scale"},"encoding":{"x":{"datum":2036.25,"type":"quantitative","axis":null},"y":{"datum":5364,"type":"quantitative","axis":null}}},
{"data":{"values":[{}]},"mark":{"type":"text","align":"center","baseline":"middle","font":"Liberation Sans","fontSize":19,"fontStyle":"italic","fontWeight":"bold","text":"LEVEL"},"encoding":{"x":{"datum":1949.8,"type":"quantitative","axis":null},"y":{"datum":7380,"type":"quantitative","axis":null}}},
{"data":{"values":[{}]},"mark":{"type":"text","align":"center","baseline":"middle","font":"Liberation Sans","fontSize":19,"fontStyle":"italic","fontWeight":"bold","text":"(Jan 1960=100)"},"encoding":{"x":{"datum":1949.8,"type":"quantitative","axis":null},"y":{"datum":5212,"type":"quantitative","axis":null}}},
{"data":{"values":[{}]},"mark":{"type":"text","align":"center","baseline":"middle","font":"Liberation Sans","fontSize":20,"fontStyle":"italic","fontWeight":"bold","text":"Price"},"encoding":{"x":{"datum":1985.2,"type":"quantitative","axis":null},"y":{"datum":3681,"type":"quantitative","axis":null}}},
{"data":{"values":[{}]},"mark":{"type":"text","align":"center","baseline":"middle","font":"Liberation Sans","fontSize":20,"fontStyle":"italic","fontWeight":"bold","text":"EPS"},"encoding":{"x":{"datum":2009.17,"type":"quantitative","axis":null},"y":{"datum":150,"type":"quantitative","axis":null}}},
{"data":{"values":[{}]},"mark":{"type":"text","align":"left","baseline":"middle","font":"Liberation Sans","fontSize":20,"fontStyle":"italic","fontWeight":"bold","text":"Pearson Correlation"},"encoding":{"x":{"datum":1879.8,"type":"quantitative","axis":null},"y":{"datum":396,"type":"quantitative","axis":null}}},
{"data":{"values":[{}]},"mark":{"type":"text","align":"left","baseline":"middle","font":"Liberation Sans","fontSize":20,"text":"1871−2015:  +0.96"},"encoding":{"x":{"datum":1879.8,"type":"quantitative","axis":null},"y":{"datum":275.6,"type":"quantitative","axis":null}}},
{"data":{"values":[{}]},"mark":{"type":"text","align":"left","baseline":"middle","font":"Liberation Sans","fontSize":14,"fontWeight":"bold","text":"www.bnarchives.net"},"encoding":{"x":{"datum":1863.5,"type":"quantitative","axis":null},"y":{"datum":1.395,"type":"quantitative","axis":null}}}
]},
{"width":864,"height":318,
"resolve":{"axis":{"y":"independent"}},
"layer":[
{"data":{"name":"refs"},"mark":{"type":"rule","color":"#7b969c","strokeWidth":1.8,"strokeDash":[5,3]},"encoding":{"y":{"field":"r","type":"quantitative","axis":null,"scale":{"domain":[-1.4,1.4],"nice":false,"zero":false}}}},
{"data":{"name":"corr"},"mark":{"type":"line","color":"#7b969c","strokeWidth":1.5},
"encoding":{
"x":{"field":"t","type":"quantitative","title":null,"scale":{"domain":[1860,2040],"nice":false,"zero":false},
"axis":{"orient":"bottom","title":null,"values":[1860,1880,1900,1920,1940,1960,1980,2000,2020,2040],"format":"d","labelFontSize":18,"labelPadding":9}},
"y":{"field":"c","type":"quantitative","title":null,
"axis":{"orient":"left","title":null,"values":[-1,-0.8,-0.6,-0.4,-0.2,0,0.2,0.4,0.6,0.8,1],"format":".1f","labelFontSize":19,"labelPadding":18}}}},
{"data":{"name":"avg"},"mark":{"type":"line","color":"#1428f0","strokeWidth":3.5,"strokeJoin":"round"},
"encoding":{
"x":{"field":"t","type":"quantitative","title":null},
"y":{"field":"c","type":"quantitative","title":null,
"axis":{"orient":"right","title":null,"values":[-1,-0.8,-0.6,-0.4,-0.2,0,0.2,0.4,0.6,0.8,1],"format":".1f","labelFontSize":19,"labelAlign":"right","labelPadding":69}}}},
{"data":{"name":"cticks"},"mark":{"type":"rule","color":"black","strokeWidth":1.5},"encoding":{"y":{"field":"c","type":"quantitative","axis":null},"x":{"datum":1860,"type":"quantitative"},"x2":{"datum":1861.67}}},
{"data":{"name":"cticks"},"mark":{"type":"rule","color":"black","strokeWidth":1.5},"encoding":{"y":{"field":"c","type":"quantitative","axis":null},"x":{"datum":2040,"type":"quantitative"},"x2":{"datum":2038.33}}},
{"data":{"name":"yrmaj"},"mark":{"type":"rule","color":"black","strokeWidth":1.5},"encoding":{"x":{"field":"t","type":"quantitative"},"y":{"datum":-1.4,"type":"quantitative","axis":null},"y2":{"datum":-1.312}}},
{"data":{"name":"yrmin"},"mark":{"type":"rule","color":"black","strokeWidth":1.5},"encoding":{"x":{"field":"t","type":"quantitative"},"y":{"datum":-1.4,"type":"quantitative","axis":null},"y2":{"datum":-1.356}}},
{"data":{"values":[{}]},"mark":{"type":"rule","color":"black","strokeWidth":2,"strokeDash":[6,2]},"encoding":{"x":{"datum":1947.7,"type":"quantitative"},"x2":{"datum":1953.1},"y":{"datum":-0.451,"type":"quantitative","axis":null},"y2":{"datum":-0.195}}},
{"data":{"values":[{}]},"mark":{"type":"text","align":"left","baseline":"middle","font":"Liberation Sans","fontSize":20,"fontStyle":"italic","text":"Pearson coeff."},"encoding":{"x":{"datum":1863.5,"type":"quantitative"},"y":{"datum":1.248,"type":"quantitative","axis":null}}},
{"data":{"values":[{}]},"mark":{"type":"text","align":"right","baseline":"middle","font":"Liberation Sans","fontSize":20,"fontStyle":"italic","text":"Pearson coeff."},"encoding":{"x":{"datum":2036.25,"type":"quantitative"},"y":{"datum":1.248,"type":"quantitative","axis":null}}},
{"data":{"values":[{}]},"mark":{"type":"text","align":"center","baseline":"middle","font":"DejaVu Sans","fontSize":22,"fontStyle":"italic","fontWeight":"bold","text":"12-MONTH TRAILING CORRELATION"},"encoding":{"x":{"datum":1941.9,"type":"quantitative"},"y":{"datum":1.177,"type":"quantitative","axis":null}}},
{"data":{"values":[{}]},"mark":{"type":"text","align":"center","baseline":"middle","font":"Liberation Sans","fontSize":18,"fontStyle":"italic","fontWeight":"bold","text":"10-year"},"encoding":{"x":{"datum":2027.1,"type":"quantitative"},"y":{"datum":0.752,"type":"quantitative","axis":null}}},
{"data":{"values":[{}]},"mark":{"type":"text","align":"center","baseline":"middle","font":"Liberation Sans","fontSize":18,"fontStyle":"italic","fontWeight":"bold","text":"trailing"},"encoding":{"x":{"datum":2027.1,"type":"quantitative"},"y":{"datum":0.54,"type":"quantitative","axis":null}}},
{"data":{"values":[{}]},"mark":{"type":"text","align":"center","baseline":"middle","font":"Liberation Sans","fontSize":18,"fontStyle":"italic","fontWeight":"bold","text":"average"},"encoding":{"x":{"datum":2027.1,"type":"quantitative"},"y":{"datum":0.327,"type":"quantitative","axis":null}}},
{"data":{"values":[{}]},"mark":{"type":"text","align":"left","baseline":"middle","font":"Liberation Sans","fontSize":20,"fontWeight":"bold","color":"#ff1a1a","text":"SYSTEMIC FEAR Index"},"encoding":{"x":{"datum":1900.4,"type":"quantitative"},"y":{"datum":-0.549,"type":"quantitative","axis":null}}},
{"data":{"values":[{}]},"mark":{"type":"text","align":"left","baseline":"middle","font":"Liberation Sans","fontSize":14,"fontWeight":"bold","text":"www.bnarchives.net"},"encoding":{"x":{"datum":1863.5,"type":"quantitative"},"y":{"datum":-1.23,"type":"quantitative","axis":null}}}
]}
]
}
